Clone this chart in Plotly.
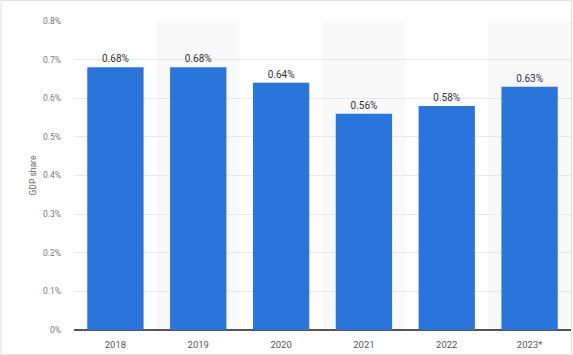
import plotly.graph_objects as go

years = ["2018", "2019", "2020", "2021", "2022", "2023*"]
gdp_share = [0.68, 0.68, 0.64, 0.56, 0.58, 0.63]
y_ticks = [0, 0.1, 0.2, 0.3, 0.4, 0.5, 0.6, 0.7, 0.8]
y_tick_labels = ["0%", "0.1%", "0.2%", "0.3%", "0.4%", "0.5%", "0.6%", "0.7%", "0.8%"]

fig = go.Figure()

fig.add_trace(go.Bar(
    x=years,
    y=gdp_share,
    marker=dict(color="#2a75db", line=dict(width=0)),
    width=0.68,
    text=[f"{v:.2f}%" for v in gdp_share],
    textposition="outside",
    textfont=dict(family="Roboto, Arial, sans-serif", size=10, color="#333333"),
    cliponaxis=False,
    hoverinfo="skip",
))

shapes = []
for i in range(len(years)):
    if i % 2 == 1:
        shapes.append(dict(type="rect", xref="x", yref="y", x0=i - 0.5, x1=i + 0.5,
                           y0=0, y1=y_ticks[-1], fillcolor="#f9f9f9", line=dict(width=0),
                           layer="below"))
# outer image border
shapes.append(dict(type="rect", xref="paper", yref="paper", x0=-73/497, x1=1 + 0.5/497,
                   y0=-24.5/309, y1=1 + 20.5/309, line=dict(color="#e0e0e0", width=1),
                   fillcolor="rgba(0,0,0,0)", layer="above"))

fig.update_layout(
    width=573, height=355,
    margin=dict(l=74, r=2, t=21, b=25),
    paper_bgcolor="white",
    plot_bgcolor="white",
    showlegend=False,
    shapes=shapes,
    bargap=0.32,
    font=dict(family="Roboto, Arial, sans-serif", size=9, color="#666666"),
    xaxis=dict(
        type="category",
        showgrid=False,
        showline=False,
        ticks="",
        tickfont=dict(size=9.5, color="#555555"),
        ticklabelstandoff=7,
    ),
    yaxis=dict(
        range=[0, 0.8],
        tickvals=y_ticks,
        ticktext=y_tick_labels,
        showgrid=True,
        gridcolor="#e8e8e8",
        gridwidth=1,
        zeroline=True,
        zerolinecolor="#555555",
        zerolinewidth=2,
        showline=False,
        ticks="",
        ticklabelstandoff=12,
        tickfont=dict(size=8.5, color="#777777"),
        title=dict(text="GDP share", font=dict(size=8.5, color="#666666"), standoff=4),
    ),
)

fig.write_html("out.html", config={"displayModeBar": False},
               post_script="document.body.style.margin='0px';")
